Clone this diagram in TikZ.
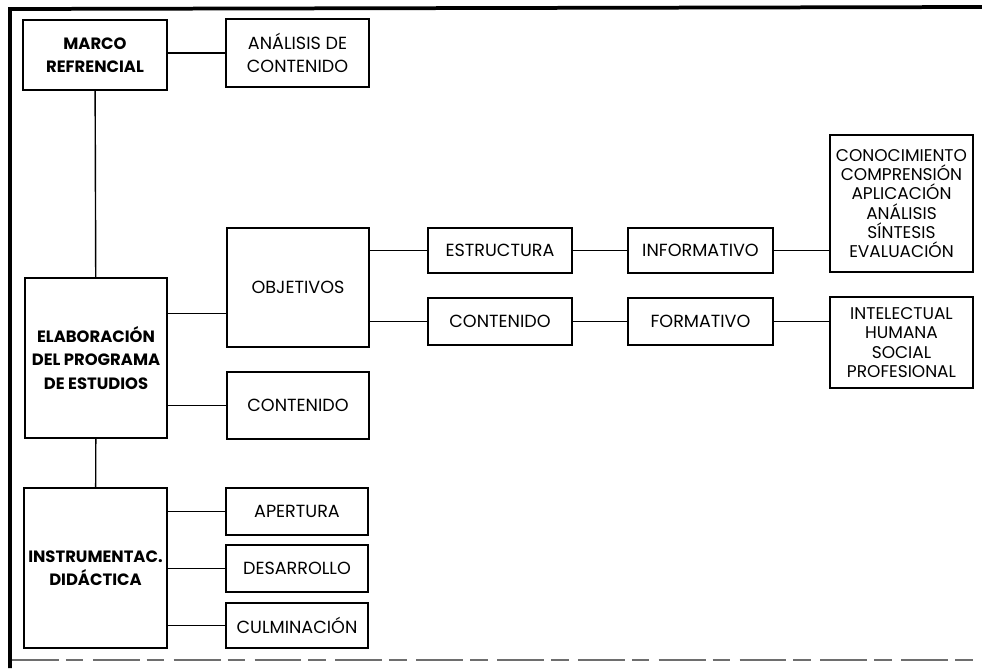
\documentclass[tikz,border=0pt]{standalone}
\usepackage{fontspec}
\setmainfont{Poppins}
\usepackage{tikz}
\usetikzlibrary{positioning,calc}
\definecolor{scangray}{RGB}{110,110,110}

\begin{document}
\begin{tikzpicture}[x=0.03cm, y=-0.03cm,
    caja/.style={draw, line width=1.3pt, align=center, inner sep=1pt, font=\fontsize{15}{19}\selectfont},
    cajab/.style={caja, font=\fontsize{14}{20}\selectfont\bfseries},
    lista/.style={caja, font=\fontsize{14.5}{16.4}\selectfont},
    enlace/.style={line width=1.2pt}]
    \useasboundingbox (0,0) rectangle (982,668);
    \draw[line width=3.2pt] (10,668) -- (10,9) -- (982,7);
    \draw[scangray, line width=2.5pt, dash pattern=on 40pt off 6pt on 15pt off 8pt] (12,660) -- (982,660);

    \node[cajab, minimum width=4.32cm, minimum height=2.1cm] (marco) at (95,55) {MARCO\\REFRENCIAL};
    \node[caja, minimum width=4.29cm, minimum height=2.04cm] (analisis) at (297.5,53) {ANÁLISIS DE\\CONTENIDO};
    \node[cajab, minimum width=4.26cm, minimum height=4.8cm] (elab) at (96,358) {ELABORACIÓN\\DEL PROGRAMA\\DE ESTUDIOS};
    \node[caja, minimum width=4.26cm, minimum height=3.57cm] (objetivos) at (298,287.5) {OBJETIVOS};
    \node[caja, minimum width=4.26cm, minimum height=2.01cm] (contenido) at (298,405.5) {CONTENIDO};
    \node[cajab, minimum width=4.29cm, minimum height=4.8cm] (instr) at (95.5,568) {INSTRUMENTAC.\\DIDÁCTICA};
    \node[caja, minimum width=4.26cm, minimum height=1.41cm] (apertura) at (297,511.5) {APERTURA};
    \node[caja, minimum width=4.26cm, minimum height=1.41cm] (desarrollo) at (297,568.5) {DESARROLLO};
    \node[caja, minimum width=4.26cm, minimum height=1.35cm] (culminacion) at (297,625.5) {CULMINACIÓN};
    \node[caja, minimum width=4.32cm, minimum height=1.35cm] (estructura) at (500,250.5) {ESTRUCTURA};
    \node[caja, minimum width=4.32cm, minimum height=1.41cm] (contenidob) at (500,321.5) {CONTENIDO};
    \node[caja, minimum width=4.35cm, minimum height=1.35cm] (informativo) at (700.5,250.5) {INFORMATIVO};
    \node[caja, minimum width=4.35cm, minimum height=1.41cm] (formativo) at (700.5,321.5) {FORMATIVO};
    \node[lista, minimum width=4.29cm, minimum height=4.11cm] (cognitivo) at (901.5,203.5) {CONOCIMIENTO\\COMPRENSIÓN\\APLICACIÓN\\ANÁLISIS\\SÍNTESIS\\EVALUACIÓN};
    \node[lista, minimum width=4.29cm, minimum height=2.73cm] (integral) at (901.5,342.5) {INTELECTUAL\\HUMANA\\SOCIAL\\PROFESIONAL};

    \draw[enlace] (analisis.west -| marco.east) -- (analisis.west);
    \draw[enlace] (marco) -- (elab);
    \draw[enlace] (elab) -- (instr);
    \draw[enlace] (elab.east |- objetivos.200) -- (objetivos.200);
    \draw[enlace] (elab.east |- contenido.west) -- (contenido.west);
    \draw[enlace] (objetivos.east |- estructura.west) -- (estructura.west);
    \draw[enlace] (objetivos.east |- contenidob.west) -- (contenidob.west);
    \draw[enlace] (estructura) -- (informativo);
    \draw[enlace] (contenidob) -- (formativo);
    \draw[enlace] (informativo.east) -- (informativo.east -| cognitivo.west);
    \draw[enlace] (formativo.east) -- (formativo.east -| integral.west);
    \draw[enlace] (instr.east |- apertura.west) -- (apertura.west);
    \draw[enlace] (instr.east |- desarrollo.west) -- (desarrollo.west);
    \draw[enlace] (instr.east |- culminacion.west) -- (culminacion.west);
\end{tikzpicture}
\end{document}
